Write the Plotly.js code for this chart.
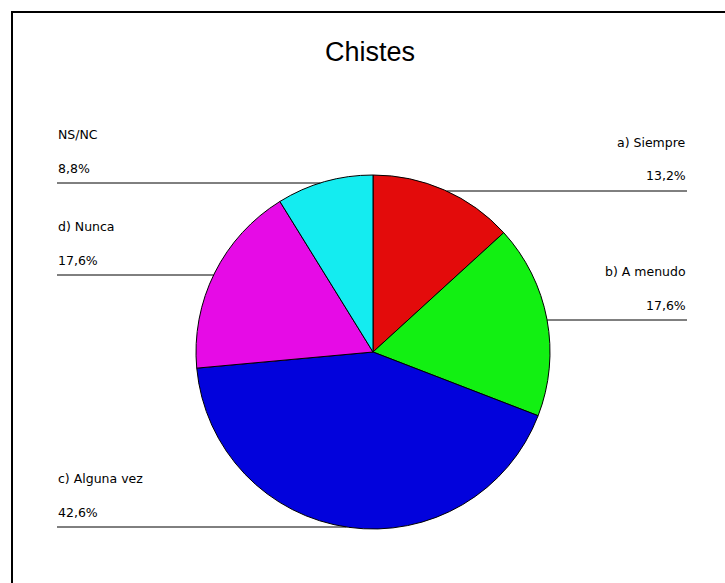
<!DOCTYPE html>
<html>
<head>
<meta charset="utf-8">
<script src="https://cdn.plot.ly/plotly-3.0.1.min.js"></script>
<style>html,body{margin:0;padding:0;background:#fff;}#chart{width:725px;height:583px;}</style>
</head>
<body>
<div id="chart"></div>
<script>
const categories = ["a) Siempre", "b) A menudo", "c) Alguna vez", "d) Nunca", "NS/NC"];
const values = [13.2, 17.6, 42.6, 17.6, 8.8];
const sliceColors = ["#e30b0b", "#12f012", "#0202dc", "#e60be6", "#14ecf0"];
const titleText = "Chistes";

const W = 725, H = 583;
const cx = 373, cy = 352, R = 177;
const px = x => x / W;
const py = y => 1 - y / H;

// label layout: side and row of the leader line (pixels)
const labelSide = ["right", "right", "left", "left", "left"];
const lineY = [191, 320, 527, 275, 183];

const fmt = v => v.toFixed(1).replace(".", ",") + "%";

const annotations = [];
const shapes = [];
const font = {family: "DejaVu Sans, Verdana, sans-serif", size: 12.5, color: "#000"};
categories.forEach((c, i) => {
  const ly = lineY[i];
  const dx = Math.sqrt(Math.max(0, R * R - (ly - cy) * (ly - cy)));
  let x0, x1, tx, anchor;
  if (labelSide[i] === "left") { x0 = 57; x1 = cx - dx; tx = 56; anchor = "left"; }
  else { x0 = cx + dx; x1 = 687; tx = 688; anchor = "right"; }
  shapes.push({type: "line", xref: "paper", yref: "paper", x0: px(x0), x1: px(x1), y0: py(ly), y1: py(ly),
    line: {color: "#000", width: 1}});
  annotations.push({xref: "paper", yref: "paper", x: px(tx), y: py(ly - 49), xanchor: anchor, yanchor: "middle",
    text: c, showarrow: false, font: font});
  annotations.push({xref: "paper", yref: "paper", x: px(tx), y: py(ly - 15), xanchor: anchor, yanchor: "middle",
    text: fmt(values[i]), showarrow: false, font: font});
});
// frame
shapes.push({type: "line", xref: "paper", yref: "paper", x0: px(12), x1: px(12), y0: py(11), y1: -0.05, line: {color: "#000", width: 2}});
shapes.push({type: "line", xref: "paper", yref: "paper", x0: px(11), x1: 1.05, y0: py(12), y1: py(12), line: {color: "#000", width: 2}});

annotations.push({xref: "paper", yref: "paper", x: px(370), y: py(52), xanchor: "center", yanchor: "middle",
  text: titleText, showarrow: false, font: {family: "Liberation Sans, Arial, sans-serif", size: 27, color: "#000"}});

const trace = {
  type: "pie",
  labels: categories,
  values: values,
  sort: false,
  direction: "clockwise",
  rotation: 0,
  textinfo: "none",
  hoverinfo: "label+percent",
  marker: {colors: sliceColors, line: {color: "#000", width: 1}},
  domain: {x: [px(cx - R), px(cx + R)], y: [py(cy + R), py(cy - R)]},
  showlegend: false
};

Plotly.newPlot("chart", [trace], {
  width: W, height: H,
  margin: {l: 0, r: 0, t: 0, b: 0},
  paper_bgcolor: "#fff",
  showlegend: false,
  shapes: shapes,
  annotations: annotations
}, {displayModeBar: false, staticPlot: true});
</script>
</body>
</html>
